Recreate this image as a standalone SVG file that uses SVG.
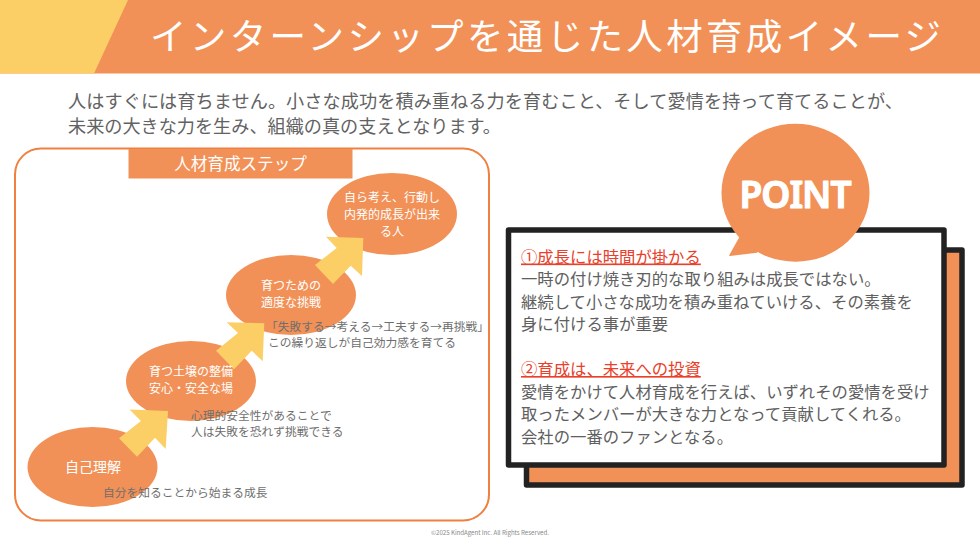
<svg xmlns="http://www.w3.org/2000/svg" width="980" height="551" viewBox="0 0 980 551">
<style>
text{font-family:"Noto Sans CJK JP","Noto Sans",sans-serif}
.o{fill:#f29157}
.y{fill:#fbcf66}
.w{fill:#fff}
.b{fill:#626262}
.el{fill:#fff;font-size:12px;text-anchor:middle}
.an{fill:#6e6e6e;font-size:11.75px}
.pt{fill:#606060;font-size:16.35px}
.hd{fill:#e8402a;font-size:16.35px;text-decoration:underline}
.panel{stroke:#222;stroke-width:5.5;stroke-linejoin:round}
</style>
<rect width="980" height="551" fill="#fff"/>
<g id="header">
<rect class="o" x="0" y="0" width="980" height="73.5"/>
<polygon class="y" points="0,0 128,0 94,73.5 0,73.5"/>
<text class="w" x="150" y="50" font-size="36.5" textLength="791">インターンシップを通じた人材育成イメージ</text>
</g>
<g id="lead" class="b" font-size="18.15">
<text x="68" y="108" textLength="835">人はすぐには育ちません。小さな成功を積み重ねる力を育むこと、そして愛情を持って育てることが、</text>
<text x="68" y="133">未来の大きな力を生み、組織の真の支えとなります。</text>
</g>
<g id="steps-frame">
<rect x="15" y="148.500" width="474" height="372" rx="26" fill="#fff" stroke="#f0803f" stroke-width="2"/>
<rect class="o" x="128.500" y="149" width="224" height="29.500"/>
<text class="w" x="240.500" y="170" font-size="16.6" text-anchor="middle">人材育成ステップ</text>
</g>
<g id="step1"><ellipse class="o" cx="92.500" cy="467" rx="65" ry="40"/></g>
<g id="step2"><ellipse class="o" cx="191" cy="381" rx="65" ry="40"/></g>
<g id="step3"><ellipse class="o" cx="291" cy="295" rx="65" ry="40"/></g>
<g id="step4"><ellipse class="o" cx="392" cy="214" rx="65" ry="41"/></g>
<g id="connectors">
<polygon class="y" points="129.500,409.500 168,411 165.700,449 155,437.700 137,456.700 119,438.300 141,421"/>
<polygon class="y" points="226.700,322.300 264.300,323.300 262.700,361.300 251.700,350.700 234,369.300 216,350.700 238,333"/>
<polygon class="y" points="326,236.700 363.300,238 362,276 350.700,265.700 333,284 315,265 336.700,248"/>
</g>
<g id="step-labels">
<text class="el" x="93" y="471.500" style="font-size:14px">自己理解</text>
<text class="el" x="191" y="376">育つ土壌の整備</text>
<text class="el" x="191" y="392.500">安心・安全な場</text>
<text class="el" x="291" y="290">育つための</text>
<text class="el" x="291" y="306.500">適度な挑戦</text>
<text class="el" x="392" y="201.500">自ら考え、行動し</text>
<text class="el" x="392" y="218.500">内発的成長が出来</text>
<text class="el" x="392" y="235.500">る人</text>
<text class="an" x="103" y="497">自分を知ることから始まる成長</text>
<text class="an" x="191" y="419.500">心理的安全性があることで</text>
<text class="an" x="191" y="435.500">人は失敗を恐れず挑戦できる</text>
<text class="an" x="266" y="330.500" textLength="223">「失敗する→考える→工夫する→再挑戦」</text>
<text class="an" x="268" y="346.500">この繰り返しが自己効力感を育てる</text>
</g>
<g id="point-panel">
<rect class="o panel" x="526.500" y="250" width="435.500" height="235"/>
<rect class="w panel" x="508.500" y="230" width="435.500" height="235"/>
<text class="hd" x="521" y="262.500">①成長には時間が掛かる</text>
<text class="pt" x="521" y="285">一時の付け焼き刃的な取り組みは成長ではない。</text>
<text class="pt" x="521" y="308">継続して小さな成功を積み重ねていける、その素養を</text>
<text class="pt" x="521" y="330">身に付ける事が重要</text>
<text class="hd" x="521" y="375">②育成は、未来への投資</text>
<text class="pt" x="521" y="397.500">愛情をかけて人材育成を行えば、いずれその愛情を受け</text>
<text class="pt" x="521" y="420">取ったメンバーが大きな力となって貢献してくれる。</text>
<text class="pt" x="521" y="442.500">会社の一番のファンとなる。</text>
</g>
<g id="point-bubble">
<ellipse class="o" cx="795.500" cy="192.700" rx="74" ry="69"/>
<polygon class="o" points="740,236 729,255.500 730,256 757,252.700 770,240"/>
<text class="w" x="739.500" y="207.500" font-size="37" font-weight="600" stroke="#fff" stroke-width="1.2" stroke-linejoin="round" textLength="112" style="font-family:'Noto Sans',sans-serif">POINT</text>
</g>
<text id="copyright" x="431" y="535" font-size="6.200" fill="#8a8a8a" textLength="118">©2025 KindAgent Inc. All Rights Reserved.</text>
</svg>
